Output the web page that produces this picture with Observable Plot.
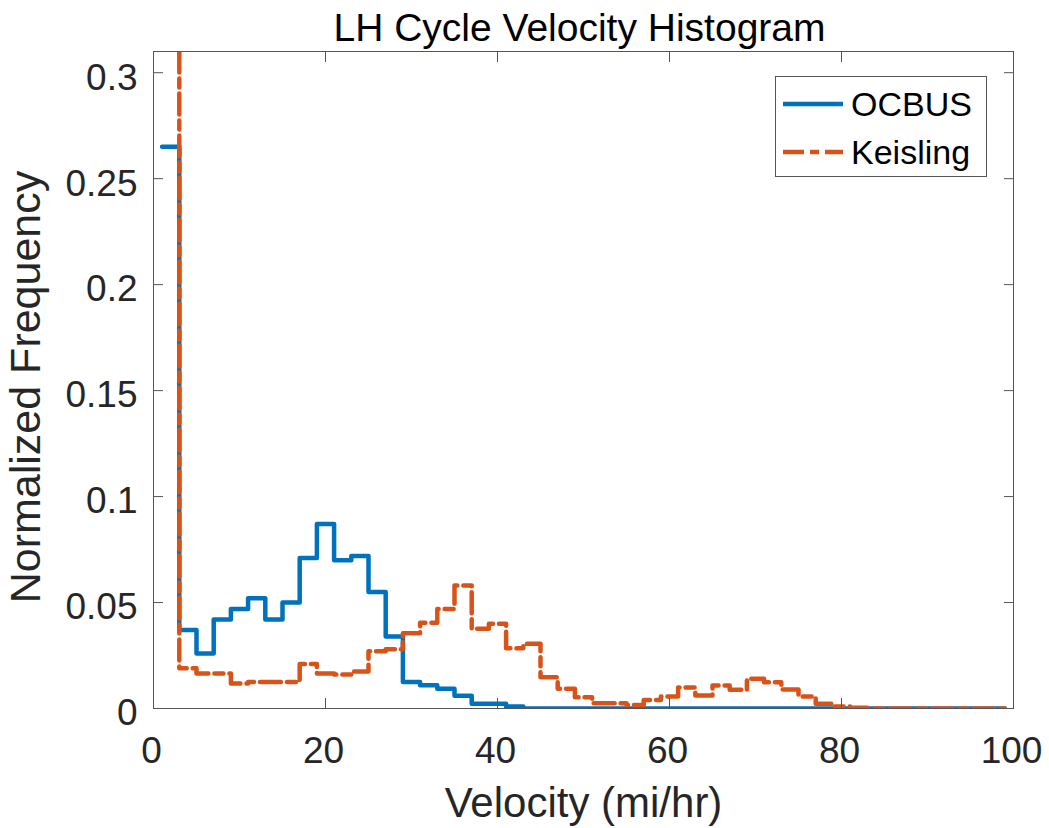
<!DOCTYPE html>
<html>
<head>
<meta charset="utf-8">
<script src="https://cdn.jsdelivr.net/npm/d3@7"></script>
<script src="https://cdn.jsdelivr.net/npm/@observablehq/plot@0.6"></script>
<style>
  html, body { margin: 0; padding: 0; background: #fff; }
  #wrap { position: relative; width: 1049px; height: 828px; font-family: "Liberation Sans", Arial, Helvetica, sans-serif; }
  #legend { position: absolute; left: 775px; top: 76px; width: 212px; height: 101px; border: 1px solid #555; background: #fff; box-sizing: border-box; }
  .lg { position: absolute; left: 0; height: 40px; display: flex; align-items: center; font-size: 34px; color: #000; }
  .lg svg { margin-left: 7px; margin-right: 8px; }
</style>
</head>
<body>
<div id="wrap"></div>
<script>
// Bin edges (mi/hr)
const binEdges = [1,3,5,7,9,11,13,15,17,19,21,23,25,27,29,31,33,35,37,39,41,43,45,47,49,51,53,55,57,59,61,63,65,67,69,71,73,75,77,79,81,83,85,87,89,91,93,95,97,99];
// Normalized frequency per bin
const ocbus = [0.265,0.037,0.026,0.042,0.047,0.052,0.042,0.050,0.071,0.087,0.070,0.072,0.055,0.034,0.0125,0.011,0.0093,0.006,0.0022,0.0022,0.0009,
  0,0,0,0,0,0,0,0,0,0,0,0,0,0,0,0,0,0,0,0,0,0,0,0,0,0,0,0];
const keisling = [0.5,0.019,0.0165,0.0165,0.0118,0.0125,0.0125,0.0125,0.021,0.0165,0.016,0.0175,0.027,0.028,0.0355,0.0405,0.047,0.058,0.0376,0.040,0.0284,0.0305,0.0148,0.0093,0.0053,0.0025,0.0025,0.0017,0.004,0.0057,0.0099,0.0061,0.0108,0.0088,0.014,0.0124,0.009,0.0057,0.0022,0.001,0.0003,
  0,0,0,0,0,0,0,0];
const xTicks = [0,20,40,60,80,100];
const yTicks = [0,0.05,0.1,0.15,0.2,0.25,0.3];
const yTickLabels = ["0","0.05","0.1","0.15","0.2","0.25","0.3"];
const seriesNames = ["OCBUS","Keisling"];
const colors = ["#0072BD","#D95319"];
const titleText = "LH Cycle Velocity Histogram";
const xLabel = "Velocity (mi/hr)";
const yLabel = "Normalized Frequency";

const toSteps = vals => binEdges.map((e, i) => ({x: e, y: vals[Math.min(i, vals.length - 1)]}));
const dash = "21,6,9,6";
const tickCol = "#555";

const plot = Plot.plot({
  width: 1049, height: 828,
  marginLeft: 153, marginRight: 36, marginTop: 51, marginBottom: 120,
  x: {domain: [0, 100]},
  y: {domain: [0, 0.31]},
  style: {fontFamily: '"Liberation Sans", Arial, Helvetica, sans-serif', color: "#262626", background: "#fff"},
  marks: [
    Plot.line(toSteps(ocbus), {x: "x", y: "y", curve: "step-after", stroke: colors[0], strokeWidth: 4.5, clip: true}),
    Plot.line(toSteps(keisling), {x: "x", y: "y", curve: "step-after", stroke: colors[1], strokeWidth: 4.5, strokeDasharray: dash, clip: true}),
    Plot.frame({stroke: tickCol, strokeWidth: 1}),
    // inward ticks on all four sides
    Plot.axisX({anchor: "bottom", ticks: xTicks, tickSize: 10, dy: -10, tickFormat: () => "", stroke: tickCol, label: null}),
    Plot.axisX({anchor: "top", ticks: xTicks, tickSize: 10, dy: 10, tickFormat: () => "", stroke: tickCol, label: null}),
    Plot.axisY({anchor: "left", ticks: yTicks, tickSize: 10, dx: 10, tickFormat: () => "", stroke: tickCol, label: null}),
    Plot.axisY({anchor: "right", ticks: yTicks, tickSize: 10, dx: -10, tickFormat: () => "", stroke: tickCol, label: null}),
    // tick labels
    Plot.axisX({anchor: "bottom", ticks: xTicks, tickSize: 0, tickPadding: 28, dx: -2, fontSize: 37, fill: "#262626", label: null}),
    Plot.axisY({anchor: "left", ticks: yTicks, tickSize: 0, tickPadding: 16, dy: 5, fontSize: 37, fill: "#262626",
      tickFormat: d => yTickLabels[yTicks.indexOf(d)], label: null}),
    // title and axis labels
    Plot.text([titleText], {frameAnchor: "top", text: d => d, textAnchor: "middle", dx: -4, dy: -23, fontSize: 39, fill: "#000", lineAnchor: "middle"}),
    Plot.text([xLabel], {frameAnchor: "bottom", text: d => d, textAnchor: "middle", dy: 95, fontSize: 42, fill: "#262626", lineAnchor: "middle"}),
    Plot.text([yLabel], {frameAnchor: "left", text: d => d, textAnchor: "middle", dx: -127, dy: 7, rotate: -90, fontSize: 43, fill: "#262626", lineAnchor: "middle"})
  ]
});

const wrap = document.getElementById("wrap");
wrap.appendChild(plot);

// legend
const legend = document.createElement("div");
legend.id = "legend";
seriesNames.forEach((name, i) => {
  const row = document.createElement("div");
  row.className = "lg";
  row.style.top = (i === 0 ? 7 : 55) + "px";
  row.innerHTML = `<svg width="60" height="10"><line x1="0" y1="5" x2="60" y2="5" stroke="${colors[i]}" stroke-width="4.5" ${i === 1 ? `stroke-dasharray="${dash}"` : ""}/></svg><span>${name}</span>`;
  legend.appendChild(row);
});
wrap.appendChild(legend);
</script>
</body>
</html>
